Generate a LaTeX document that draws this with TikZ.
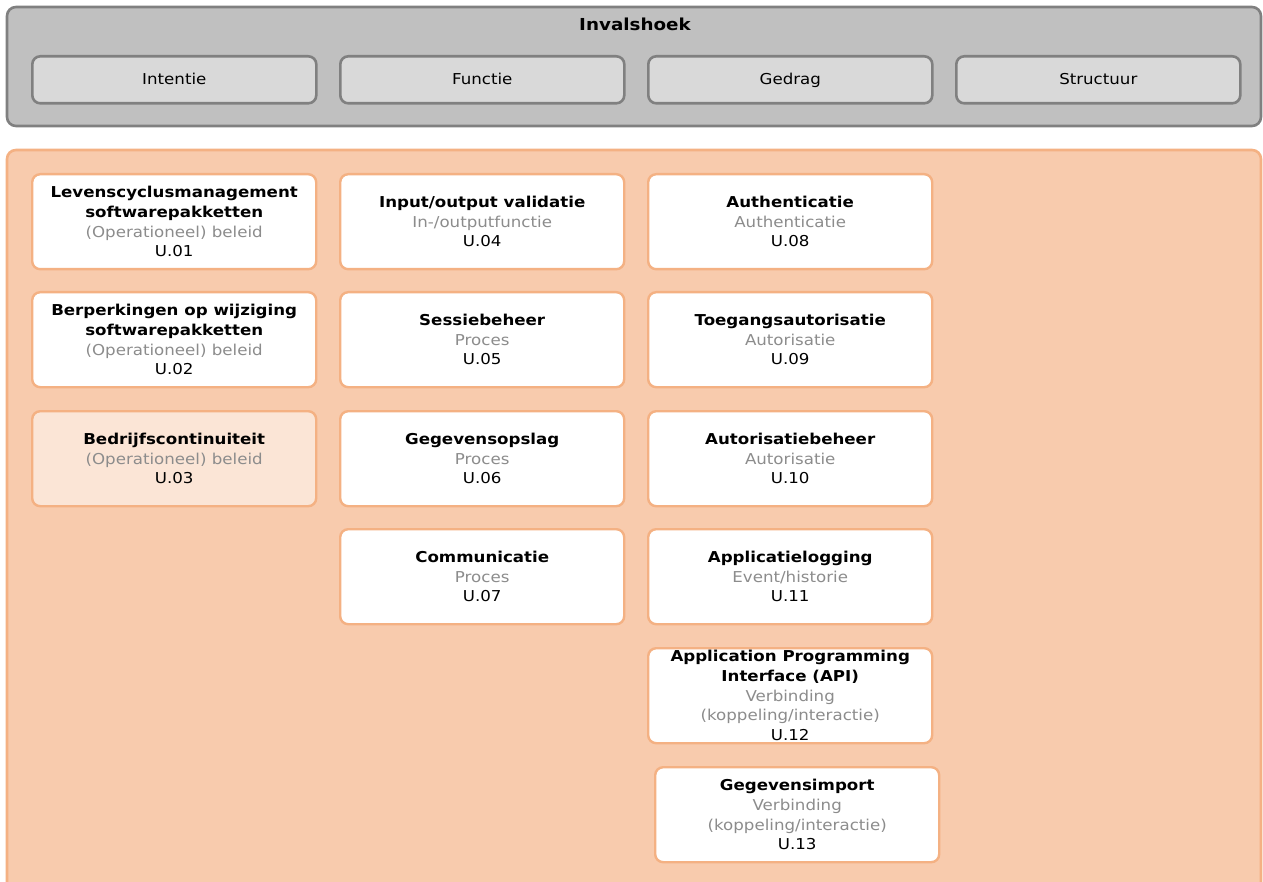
\documentclass[tikz,border=0pt]{standalone}
\usepackage{fontspec}
\setmainfont{DejaVu Sans}[FakeStretch=1.11]
\definecolor{panelgray}{HTML}{C0C0C0}
\definecolor{edgegray}{HTML}{808080}
\definecolor{tabgray}{HTML}{D9D9D9}
\definecolor{panelorange}{HTML}{F8CBAD}
\definecolor{edgeorange}{HTML}{F4B183}
\definecolor{cardpeach}{HTML}{FBE5D6}
\definecolor{subgray}{HTML}{8C8C8C}
\tikzset{
  panel/.style={rounded corners=9pt, line width=2.6pt},
  tab/.style={draw=edgegray, fill=tabgray, rounded corners=8pt, line width=2.6pt,
    minimum width=284pt, minimum height=47pt, inner sep=0pt, anchor=north west,
    text height=11pt, text depth=2pt, font=\fontsize{15}{19.7}\selectfont},
  card/.style={draw=edgeorange, fill=white, rounded corners=8pt, line width=2.4pt,
    minimum width=284pt, minimum height=95pt, inner sep=0pt, anchor=north west,
    align=center, font=\fontsize{15}{19.7}\selectfont},
  softcard/.style={card, fill=cardpeach},
}
\begin{document}
\begin{tikzpicture}[x=1pt, y=-1pt]
\useasboundingbox (0,0) rectangle (1263,882);
\clip (0,0) rectangle (1263,882);
% top panel with the four viewpoints
\draw[panel, draw=edgegray, fill=panelgray] (7,7) rectangle (1261,126);
\node[font=\fontsize{16.5}{18}\selectfont\bfseries] (title) at (635,24) {Invalshoek};
\node[tab] (intentie)  at (31,55)  {Intentie};
\node[tab] (functie)   at (339,55) {Functie};
\node[tab] (gedrag)    at (647,55) {Gedrag};
\node[tab] (structuur) at (955,55) {Structuur};
% lower panel with the controls
\draw[panel, draw=edgeorange, fill=panelorange] (7,150) rectangle (1261,900);
% first column
\node[card] (u01) at (31,173) {\textbf{Levenscyclusmanagement}\\ \textbf{softwarepakketten}\\ \textcolor{subgray}{(Operationeel) beleid}\\ U.01};
\node[card] (u02) at (31,291) {\textbf{Berperkingen op wijziging}\\ \textbf{softwarepakketten}\\ \textcolor{subgray}{(Operationeel) beleid}\\ U.02};
\node[softcard] (u03) at (31,410) {\textbf{Bedrijfscontinuiteit}\\ \textcolor{subgray}{(Operationeel) beleid}\\ U.03};
% second column
\node[card] (u04) at (339,173) {\textbf{Input/output validatie}\\ \textcolor{subgray}{In-/outputfunctie}\\ U.04};
\node[card] (u05) at (339,291) {\textbf{Sessiebeheer}\\ \textcolor{subgray}{Proces}\\ U.05};
\node[card] (u06) at (339,410) {\textbf{Gegevensopslag}\\ \textcolor{subgray}{Proces}\\ U.06};
\node[card] (u07) at (339,528) {\textbf{Communicatie}\\ \textcolor{subgray}{Proces}\\ U.07};
% third column
\node[card] (u08) at (647,173) {\textbf{Authenticatie}\\ \textcolor{subgray}{Authenticatie}\\ U.08};
\node[card] (u09) at (647,291) {\textbf{Toegangsautorisatie}\\ \textcolor{subgray}{Autorisatie}\\ U.09};
\node[card] (u10) at (647,410) {\textbf{Autorisatiebeheer}\\ \textcolor{subgray}{Autorisatie}\\ U.10};
\node[card] (u11) at (647,528) {\textbf{Applicatielogging}\\ \textcolor{subgray}{Event/historie}\\ U.11};
\node[card] (u12) at (647,647) {\textbf{Application Programming}\\ \textbf{Interface (API)}\\ \textcolor{subgray}{Verbinding}\\ \textcolor{subgray}{(koppeling/interactie)}\\ U.12};
\node[card] (u13) at (654,766) {\textbf{Gegevensimport}\\ \textcolor{subgray}{Verbinding}\\ \textcolor{subgray}{(koppeling/interactie)}\\ U.13};
\end{tikzpicture}
\end{document}
